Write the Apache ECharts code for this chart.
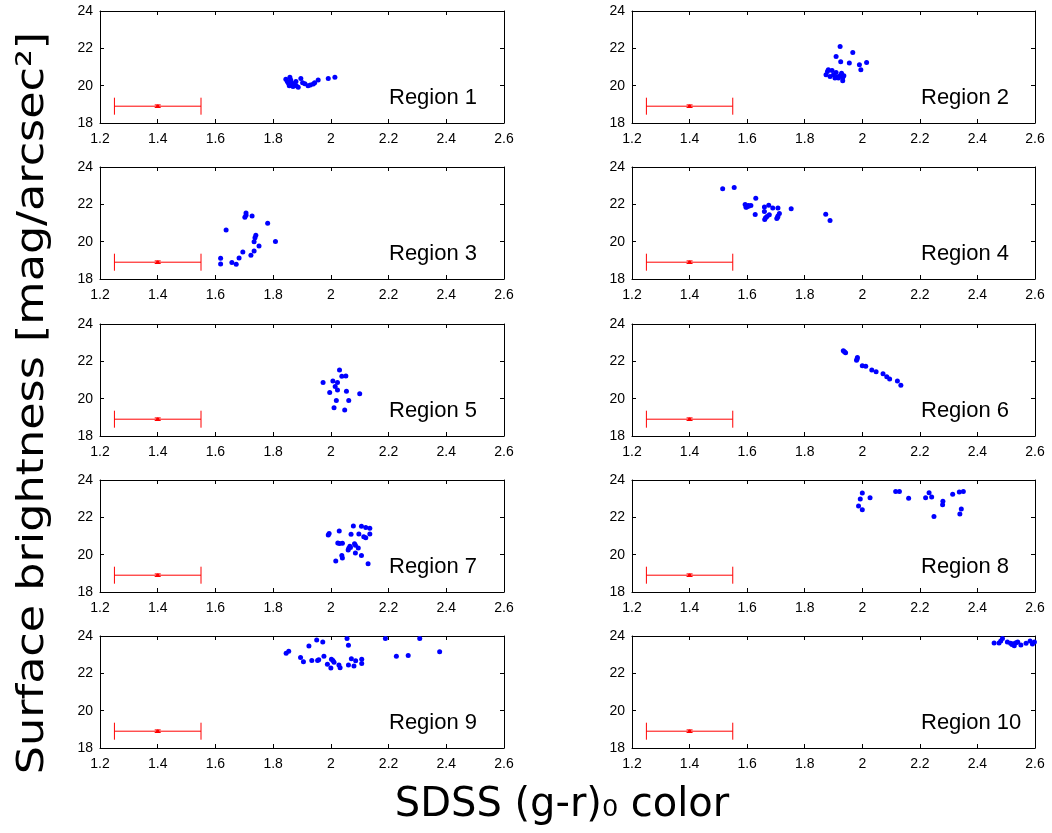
<!DOCTYPE html>
<html>
<head>
<meta charset="utf-8">
<script src="https://cdn.jsdelivr.net/npm/echarts@6/dist/echarts.min.js"></script>
<style>
html,body{margin:0;padding:0;background:#fff;}
#chart{width:1052px;height:833px;}
</style>
</head>
<body>
<div id="chart"></div>
<script>
// ---- data ----
const regionNames = ["Region 1","Region 2","Region 3","Region 4","Region 5","Region 6","Region 7","Region 8","Region 9","Region 10"];
const xTickLabels = ["1.2","1.4","1.6","1.8","2","2.2","2.4","2.6"];
const yTickLabels = ["18","20","22","24"];
const xRange = [1.2, 2.6, 0.2];
const yRange = [18, 24, 2];
const errCenter = [1.4, 18.9];
const errSize = [0.15, 0.07];

const region1 = [[1.844,20.34],[1.849,20.22],[1.853,20.13],[1.858,20.45],[1.861,20.31],[1.864,20.16],[1.858,20.04],[1.867,19.99],[1.872,20.09],[1.879,20.22],[1.887,19.91],[1.896,20.39],[1.902,20.16],[1.921,19.99],[1.929,20.04],[1.939,20.09],[1.944,20.16],[1.956,20.31],[1.991,20.39],[2.014,20.45],[1.856,19.99],[1.869,19.95],[1.880,20.00],[1.910,20.10]];
const region2 = [[1.923,22.10],[1.967,21.78],[1.909,21.56],[1.925,21.28],[1.955,21.21],[1.990,21.12],[2.015,21.24],[1.995,20.85],[1.882,20.85],[1.874,20.58],[1.879,20.76],[1.888,20.49],[1.895,20.81],[1.900,20.58],[1.909,20.71],[1.913,20.46],[1.923,20.53],[1.928,20.67],[1.932,20.41],[1.936,20.53],[1.932,20.26],[1.917,20.41],[1.905,20.41]];
const region3 = [[1.706,21.54],[1.706,21.42],[1.702,21.31],[1.727,21.37],[1.781,20.98],[1.637,20.62],[1.740,20.35],[1.737,20.21],[1.734,20.00],[1.808,20.01],[1.751,19.77],[1.734,19.50],[1.695,19.44],[1.723,19.27],[1.682,19.12],[1.618,19.11],[1.618,18.80],[1.657,18.89],[1.672,18.79]];
const region4 = [[1.515,22.84],[1.555,22.90],[1.630,22.33],[1.593,21.99],[1.598,21.86],[1.604,21.94],[1.613,21.94],[1.596,21.85],[1.660,21.86],[1.675,21.95],[1.689,21.81],[1.707,21.81],[1.753,21.76],[1.628,21.46],[1.660,21.62],[1.677,21.44],[1.669,21.35],[1.661,21.19],[1.664,21.28],[1.703,21.24],[1.707,21.37],[1.712,21.51],[1.873,21.47],[1.888,21.14],[1.706,21.31],[1.605,21.90]];
const region5 = [[2.030,21.53],[2.038,21.20],[2.052,21.22],[1.973,20.86],[2.007,20.95],[2.023,20.86],[2.015,20.65],[2.023,20.47],[1.996,20.33],[2.054,20.40],[2.100,20.27],[2.019,19.90],[2.062,19.90],[2.011,19.52],[2.048,19.39]];
const region6 = [[1.934,22.57],[1.942,22.46],[1.938,22.52],[1.983,22.21],[1.980,22.06],[1.982,22.12],[2.000,21.76],[2.012,21.74],[2.033,21.54],[2.048,21.44],[2.072,21.33],[2.085,21.17],[2.095,21.06],[2.122,20.94],[2.134,20.72]];
const region7 = [[1.994,21.14],[1.991,21.05],[2.029,21.27],[2.078,21.54],[2.106,21.52],[2.121,21.45],[2.135,21.41],[2.070,21.09],[2.097,21.11],[2.114,20.96],[2.121,20.91],[2.135,21.11],[2.024,20.63],[2.040,20.61],[2.066,20.45],[2.062,20.34],[2.060,20.25],[2.082,20.59],[2.085,20.50],[2.095,20.36],[2.038,19.95],[2.040,19.82],[2.017,19.66],[2.085,20.09],[2.106,19.96],[2.129,19.52],[2.068,20.39],[2.030,20.60]];
const region8 = [[2.000,23.30],[1.993,22.98],[1.987,22.61],[2.000,22.41],[2.027,23.05],[2.116,23.39],[2.129,23.39],[2.161,23.02],[2.220,23.05],[2.232,23.32],[2.241,23.09],[2.280,22.86],[2.279,22.68],[2.249,22.04],[2.314,23.23],[2.337,23.36],[2.351,23.39],[2.344,22.45],[2.339,22.18]];
const region9 = [[1.845,23.07],[1.854,23.18],[1.895,22.85],[1.905,22.62],[1.924,23.46],[1.934,22.69],[1.951,23.78],[1.954,22.69],[1.958,22.73],[1.972,23.68],[1.976,22.92],[1.988,22.48],[2.000,22.28],[2.002,22.75],[2.007,22.69],[2.011,22.60],[2.028,22.44],[2.032,22.30],[2.056,23.86],[2.061,23.50],[2.061,22.44],[2.071,22.78],[2.080,22.39],[2.086,22.67],[2.107,22.75],[2.107,22.53],[2.189,23.86],[2.227,22.92],[2.268,22.96],[2.308,23.86],[2.377,23.16]];
const region10 = [[2.458,23.62],[2.475,23.62],[2.481,23.73],[2.487,23.87],[2.504,23.68],[2.515,23.61],[2.525,23.59],[2.528,23.48],[2.534,23.64],[2.540,23.68],[2.551,23.52],[2.569,23.61],[2.583,23.73],[2.591,23.57],[2.598,23.68],[2.520,23.55]];
const regions = [region1,region2,region3,region4,region5,region6,region7,region8,region9,region10];

// ---- layout ----
const rowTops = [11, 167, 324, 480, 636];
const colLefts = [100, 632];
const colWidths = [404, 403];
const panelH = 112;
const labelFont = 'Liberation Sans, Arial, Helvetica, sans-serif';

const grids = [], xAxes = [], yAxes = [], series = [], graphics = [];
const fmtX = v => (+v.toFixed(1)).toString();

regions.forEach((pts, i) => {
  const col = i % 2, row = Math.floor(i / 2);
  const left = colLefts[col], top = rowTops[row], width = colWidths[col];
  grids.push({left: left, top: top, width: width, height: panelH, containLabel: false});
  const axLine = {show: true, onZero: false, lineStyle: {color: '#000', width: 1}};
  const tick = {show: true, inside: true, length: 4, lineStyle: {color: '#000', width: 1}};
  xAxes.push({gridIndex: i, type: 'value', position: 'bottom', min: xRange[0], max: xRange[1], interval: xRange[2],
    axisLine: axLine, axisTick: tick, splitLine: {show: false},
    axisLabel: {show: true, color: '#000', fontSize: 14, fontFamily: labelFont, margin: 9, formatter: fmtX, showMinLabel: true, showMaxLabel: true}});
  xAxes.push({gridIndex: i, type: 'value', position: 'top', min: xRange[0], max: xRange[1], interval: xRange[2],
    axisLine: axLine, axisTick: tick, splitLine: {show: false}, axisLabel: {show: false}});
  yAxes.push({gridIndex: i, type: 'value', position: 'left', min: yRange[0], max: yRange[1], interval: yRange[2],
    axisLine: axLine, axisTick: tick, splitLine: {show: false},
    axisLabel: {show: true, color: '#000', fontSize: 14, fontFamily: labelFont, margin: 7}});
  yAxes.push({gridIndex: i, type: 'value', position: 'right', min: yRange[0], max: yRange[1], interval: yRange[2],
    axisLine: axLine, axisTick: tick, splitLine: {show: false}, axisLabel: {show: false}});

  series.push({
    type: 'scatter', xAxisIndex: 2 * i, yAxisIndex: 2 * i, data: pts,
    symbol: 'circle', symbolSize: 5, itemStyle: {color: '#0000ff', opacity: 1}, clip: true, silent: true, animation: false
  });
  series.push({
    type: 'custom', xAxisIndex: 2 * i, yAxisIndex: 2 * i,
    data: [[errCenter[0], errCenter[1], errSize[0], errSize[1]]],
    animation: false, silent: true,
    renderItem: function (params, api) {
      const cx = api.value(0), cy = api.value(1), ex = api.value(2), ey = api.value(3);
      const pL = api.coord([cx - ex, cy]);
      const pR = api.coord([cx + ex, cy]);
      const pT = api.coord([cx, cy + ey]);
      const pB = api.coord([cx, cy - ey]);
      const capH = 8.5, capW = 3;
      const st = {stroke: '#ff0000', lineWidth: 1, fill: null};
      return {type: 'group', children: [
        {type: 'line', shape: {x1: pL[0], y1: pL[1], x2: pR[0], y2: pR[1]}, style: st},
        {type: 'line', shape: {x1: pL[0], y1: pL[1] - capH, x2: pL[0], y2: pL[1] + capH}, style: st},
        {type: 'line', shape: {x1: pR[0], y1: pR[1] - capH, x2: pR[0], y2: pR[1] + capH}, style: st},
        {type: 'line', shape: {x1: pT[0], y1: pT[1], x2: pB[0], y2: pB[1]}, style: {stroke: '#ff0000', lineWidth: 2}},
        {type: 'line', shape: {x1: pT[0] - capW, y1: pT[1], x2: pT[0] + capW, y2: pT[1]}, style: st},
        {type: 'line', shape: {x1: pB[0] - capW, y1: pB[1], x2: pB[0] + capW, y2: pB[1]}, style: st},
        {type: 'circle', shape: {cx: pT[0], cy: api.coord([cx, cy])[1], r: 1.6}, style: {fill: '#ff0000'}}
      ]};
    }
  });

  graphics.push({type: 'text', left: left + 289, top: top + 76,
    style: {text: regionNames[i], font: '22px ' + labelFont, fill: '#000'}});
});

graphics.push({type: 'text', x: 33, y: 403, rotation: Math.PI / 2, scaleX: 1.17,
  style: {text: 'Surface brightness [mag/arcsec\u00B2]', font: '38px "DejaVu Sans", sans-serif', fill: '#000', align: 'center', verticalAlign: 'middle'}});
graphics.push({type: 'text', x: 562, y: 806,
  style: {text: 'SDSS (g-r)\u2080 color', font: '40px "DejaVu Sans", sans-serif', fill: '#000', align: 'center', verticalAlign: 'middle'}});

const chart = echarts.init(document.getElementById('chart'), null, {renderer: 'canvas'});
chart.setOption({
  animation: false,
  backgroundColor: '#fff',
  grid: grids, xAxis: xAxes, yAxis: yAxes, series: series, graphic: graphics
});
</script>
</body>
</html>
